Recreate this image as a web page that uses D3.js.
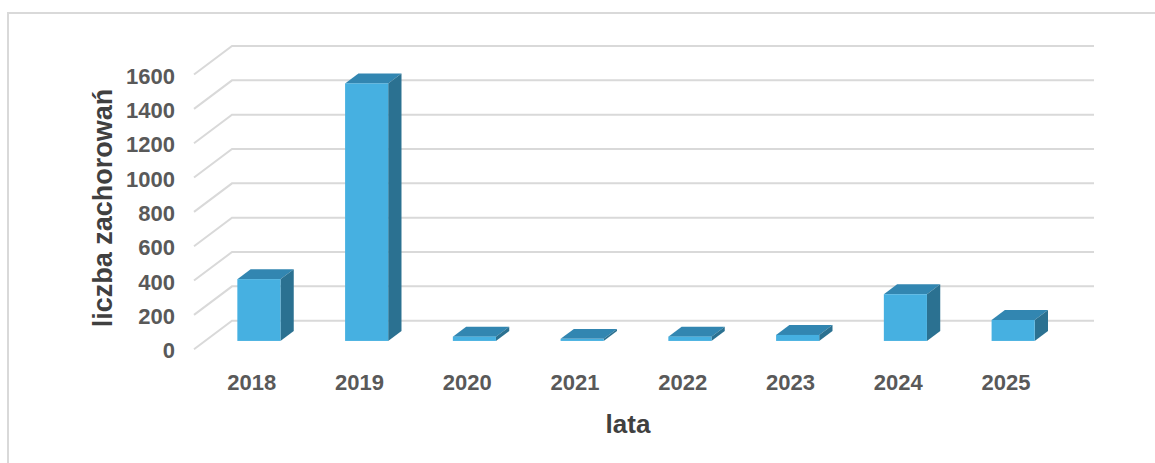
<!DOCTYPE html>
<html><head><meta charset="utf-8">
<script src="https://cdn.jsdelivr.net/npm/d3@7"></script>
<style>html,body{margin:0;padding:0;background:#fff;}svg{display:block;}</style>
</head><body>
<svg id="chart" width="1155" height="463"></svg>
<script>
const years = ["2018","2019","2020","2021","2022","2023","2024","2025"];
const cases = [360, 1500, 25, 12, 25, 35, 272, 122];
const yTicks = [0,200,400,600,800,1000,1200,1400,1600];
const xTitle = "lata";
const yTitle = "liczba zachorowań";

const svg = d3.select("#chart");
const W = 1155, H = 463;
svg.append("rect").attr("width",W).attr("height",H).attr("fill","#fff");
// outer frame
svg.append("rect").attr("x",8).attr("y",13).attr("width",1200).attr("height",500)
  .attr("fill","none").attr("stroke","#d9d9d9").attr("stroke-width",2);

// 3D geometry (back wall origin, depth vector toward viewer)
const backX = 232, backW = 862, backY0 = 320.7;
const depthDX = -38, depthDY = 28.5;
const y = d3.scaleLinear().domain([0,1600]).range([backY0, backY0 - 274.7]);
const x = d3.scaleBand().domain(years).range([backX, backX + backW]).paddingInner(0.6).paddingOuter(0.3);
const dFront = 0.71, dBack = 0.36;

const font = "'Liberation Sans', Arial, sans-serif";

// gridlines: side wall diagonal + back wall horizontal
svg.append("g").selectAll("polyline").data(yTicks).join("polyline")
  .attr("points", d => {
    const yb = y(d);
    return [[backX + depthDX, yb + depthDY],[backX, yb],[backX + backW, yb]].map(p=>p.join(",")).join(" ");
  })
  .attr("fill","none").attr("stroke","#d9d9d9").attr("stroke-width",2);

// y tick labels
svg.append("g").selectAll("text").data(yTicks).join("text")
  .attr("x", 175).attr("y", d => y(d) + depthDY + 1.5)
  .attr("text-anchor","end").attr("dominant-baseline","central")
  .attr("font-family", font).attr("font-weight","bold").attr("font-size",22)
  .attr("fill","#595959").text(d => d);

// bars
const k = y(0) - y(1);
const bdx = (dFront - dBack) * -depthDX, bdy = (dFront - dBack) * depthDY;
const bars = svg.append("g").selectAll("g").data(years.map((yr,i)=>({yr, v:cases[i]}))).join("g");
bars.each(function(d){
  const g = d3.select(this);
  const x0 = x(d.yr) + depthDX * dFront;
  const x1 = x0 + x.bandwidth();
  const yb = backY0 + depthDY * dFront;
  const yt = yb - d.v * k;
  // top
  g.append("polygon").attr("points", [[x0,yt],[x1,yt],[x1+bdx,yt-bdy],[x0+bdx,yt-bdy]].map(p=>p.join(",")).join(" "))
    .attr("fill","#3286b1");
  // side
  g.append("polygon").attr("points", [[x1,yt],[x1+bdx,yt-bdy],[x1+bdx,yb-bdy],[x1,yb]].map(p=>p.join(",")).join(" "))
    .attr("fill","#2b7191");
  // front
  g.append("rect").attr("x",x0).attr("y",yt).attr("width",x.bandwidth()).attr("height",yb-yt)
    .attr("fill","#46b0e1");
});

// x tick labels
svg.append("g").selectAll("text").data(years).join("text")
  .attr("x", d => x(d) + x.bandwidth()/2 + depthDX*0.9)
  .attr("y", 382).attr("text-anchor","middle").attr("dominant-baseline","central")
  .attr("font-family", font).attr("font-weight","bold").attr("font-size",22)
  .attr("fill","#595959").text(d => d);

// axis titles
svg.append("text").attr("x",628).attr("y",424).attr("text-anchor","middle").attr("dominant-baseline","central")
  .attr("font-family", font).attr("font-weight","bold").attr("font-size",26)
  .attr("fill","#404040").text(xTitle);
svg.append("text").attr("transform","translate(103,208) rotate(-90)")
  .attr("text-anchor","middle").attr("dominant-baseline","central")
  .attr("font-family", font).attr("font-weight","bold").attr("font-size",27)
  .attr("fill","#404040").text(yTitle);
</script>
</body></html>
